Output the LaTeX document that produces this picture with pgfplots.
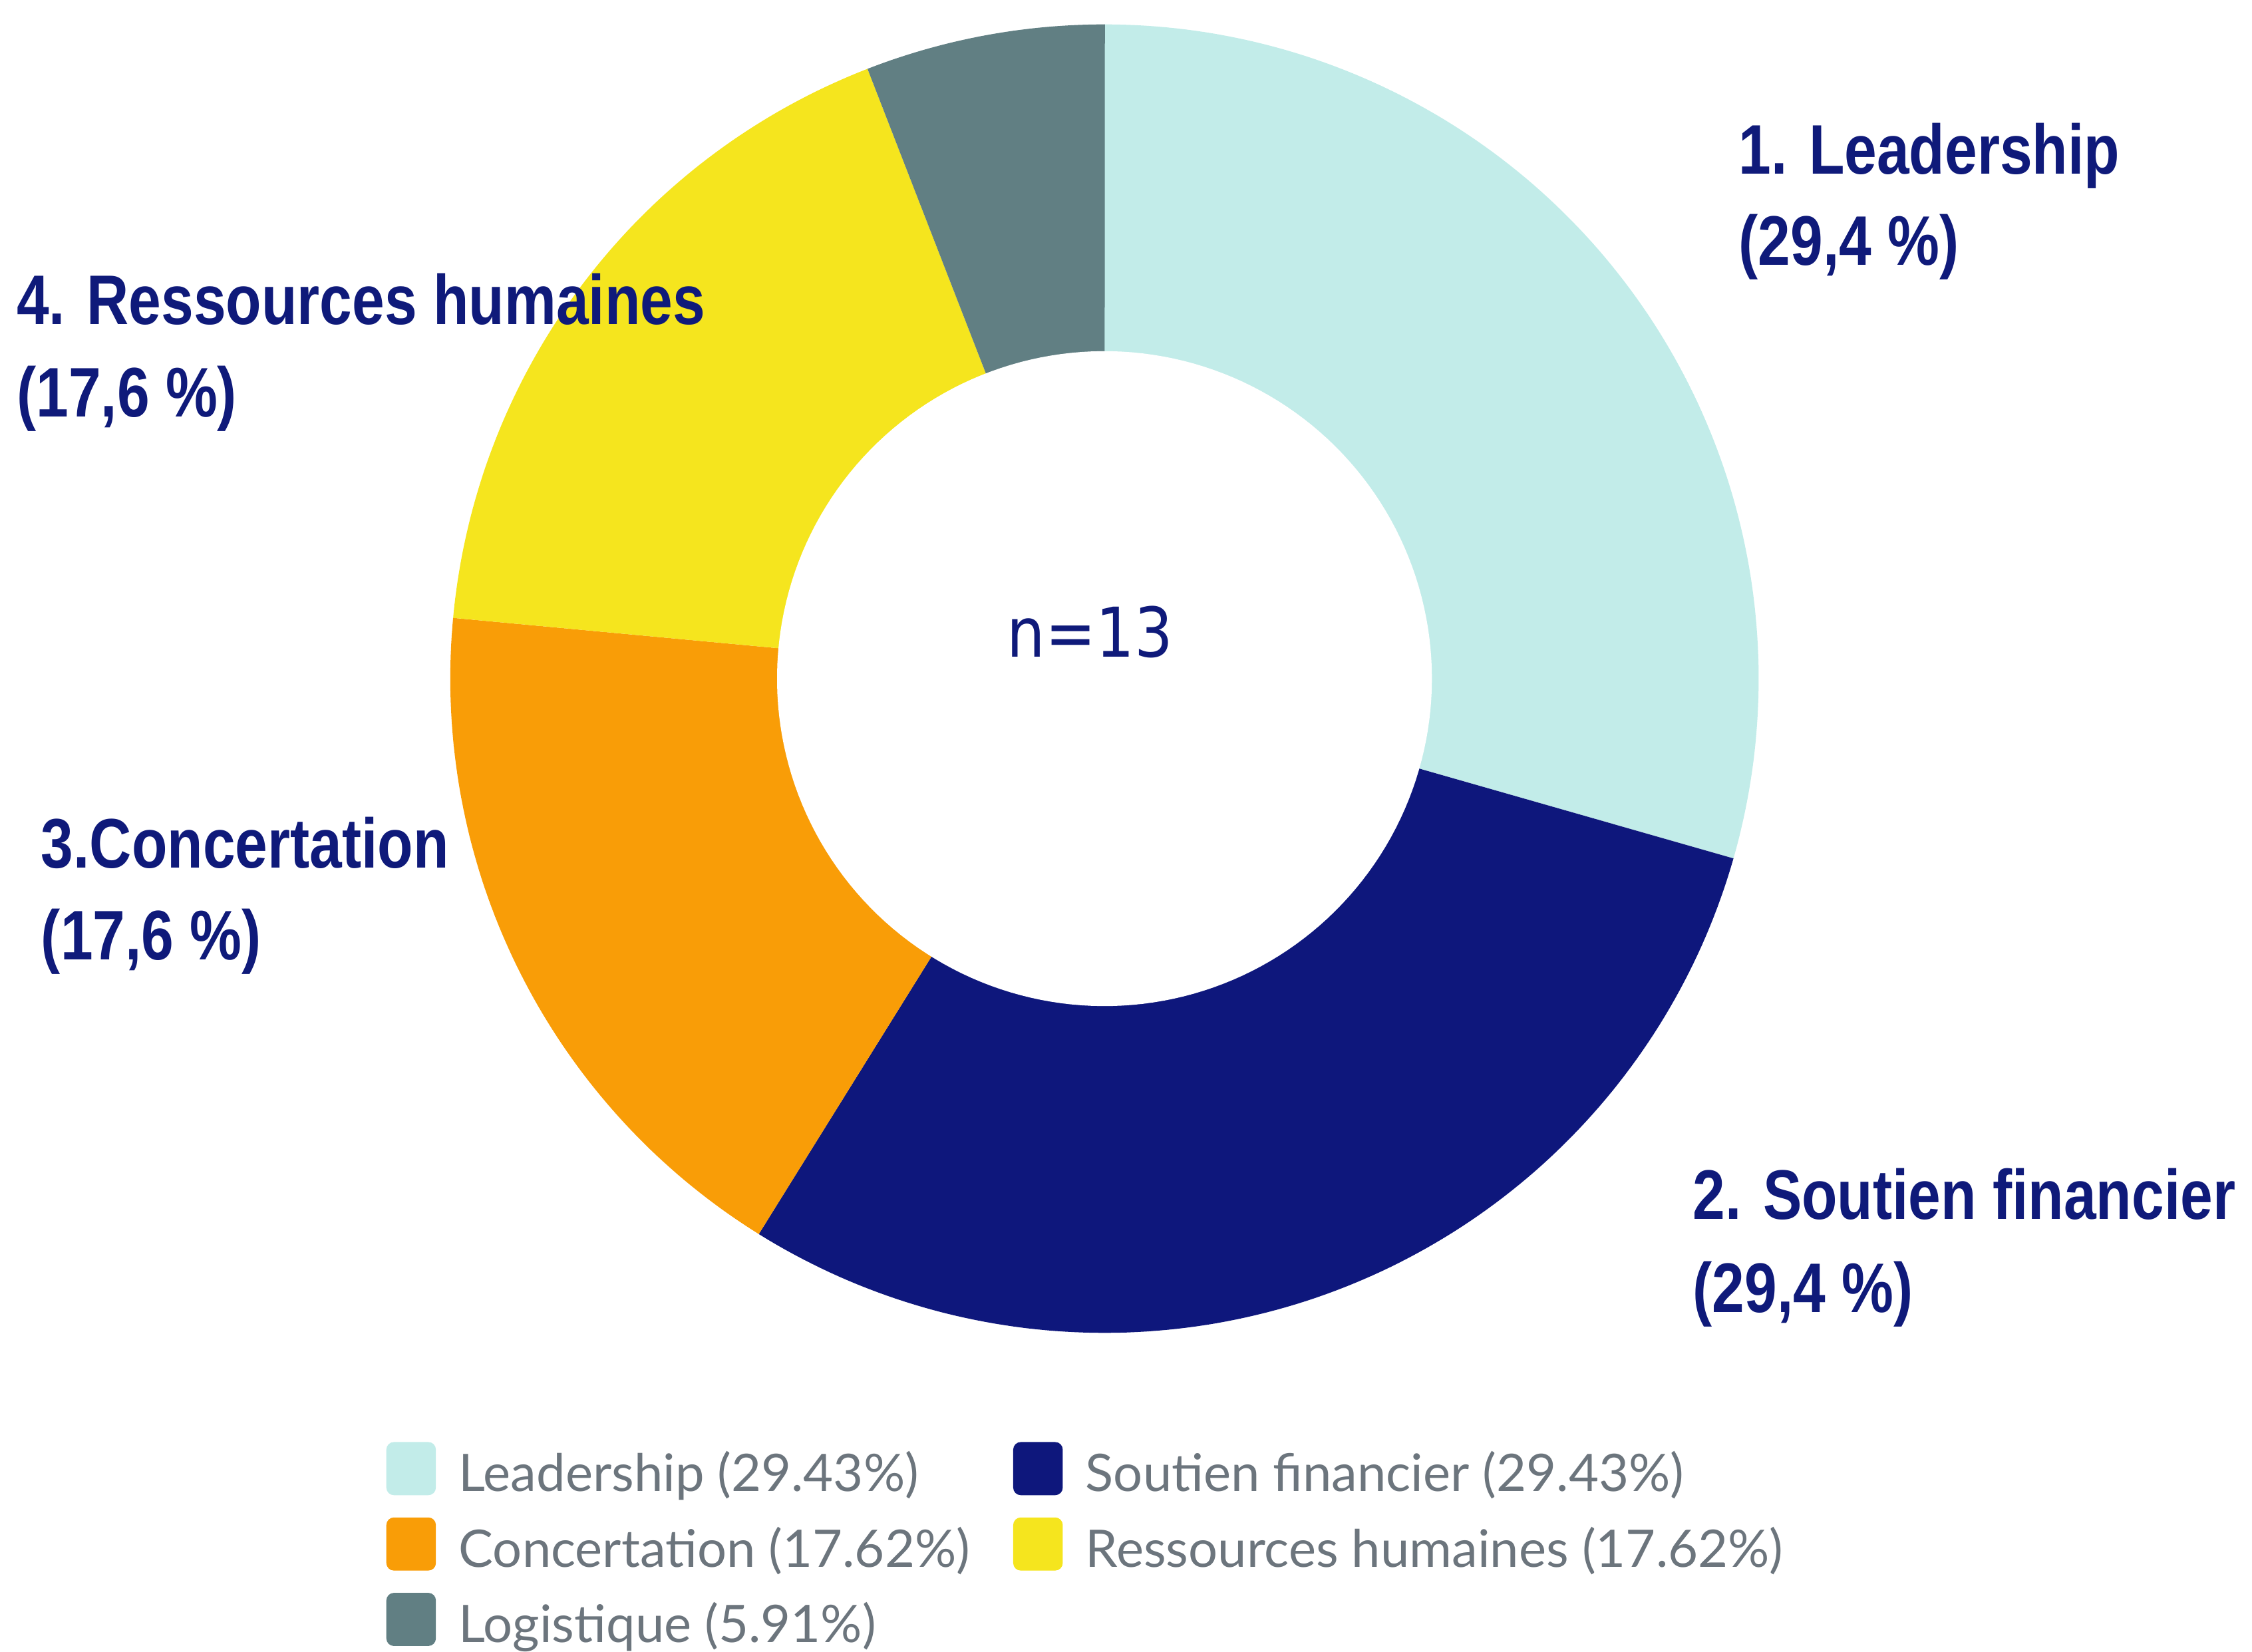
\documentclass[border=0pt]{standalone}
\usepackage{pgfplots}
\pgfplotsset{compat=1.18}
\usepackage{pgfplotstable}
\usepackage{fontspec}
\setmainfont{Lato}
\newfontfamily\labfont{Liberation Sans}[FakeStretch=0.83]
\newfontfamily\nfont{DejaVu Sans}[FakeStretch=0.88]

\definecolor{cLead}{HTML}{C2ECE9}
\definecolor{cSout}{HTML}{0E177C}
\definecolor{cConc}{HTML}{F99D07}
\definecolor{cRess}{HTML}{F5E51E}
\definecolor{cLogi}{HTML}{617F83}
\definecolor{navy}{HTML}{0F1A7A}
\definecolor{legtext}{HTML}{6C757D}

\pgfplotstableread{
label value
Leadership 29.43
Soutien 29.43
Concertation 17.62
Ressources 17.62
Logistique 5.91
}\datatable

\pgfplotstablegetelem{0}{value}\of\datatable \let\vA\pgfplotsretval
\pgfplotstablegetelem{1}{value}\of\datatable \let\vB\pgfplotsretval
\pgfplotstablegetelem{2}{value}\of\datatable \let\vC\pgfplotsretval
\pgfplotstablegetelem{3}{value}\of\datatable \let\vD\pgfplotsretval
\pgfplotstablegetelem{4}{value}\of\datatable \let\vE\pgfplotsretval
\pgfmathsetmacro\aO{90}
\pgfmathsetmacro\aA{\aO-3.6*\vA}
\pgfmathsetmacro\aB{\aA-3.6*\vB}
\pgfmathsetmacro\aC{\aB-3.6*\vC}
\pgfmathsetmacro\aD{\aC-3.6*\vD}
\pgfmathsetmacro\aE{\aD-3.6*\vE}

\def\cx{769}
\def\cy{677.5}
\def\Ro{455.5}
\def\Ri{228}

\begin{document}
\begin{tikzpicture}
\begin{axis}[
  hide axis, scale only axis,
  width=15.68cm, height=11.5cm,
  xmin=0, xmax=1568, ymin=0, ymax=1150,
  clip=false,
  legend columns=2,
  legend cell align=left,
  legend image code/.code={\fill[#1, rounded corners=1.5pt] (0cm,-0.12cm) rectangle (0.345cm,0.25cm);},
  legend style={
    at={(axis cs:269,146)}, anchor=north west,
    draw=none, fill=none, inner sep=0pt, outer sep=0pt,
    font=\fontsize{10.25}{12}\selectfont\color{legtext},
    nodes={inner sep=0pt, text height=0.27cm, text depth=0.08cm},
    column sep=0.16cm,
    row sep=0.10cm,
    /tikz/every even column/.append style={column sep=0.3cm},
  },
]
\addplot[draw=none, fill=cLead, domain=\aA:\aO, samples=120, variable=\t]
  ({\cx+\Ro*cos(\t)},{\cy+\Ro*sin(\t)}) -- (axis cs:\cx,\cy) -- cycle;
\addlegendentry{Leadership (29.43\%)}
\addplot[draw=none, fill=cSout, domain=\aB:\aA, samples=120, variable=\t]
  ({\cx+\Ro*cos(\t)},{\cy+\Ro*sin(\t)}) -- (axis cs:\cx,\cy) -- cycle;
\addlegendentry{Soutien financier (29.43\%)}
\addplot[draw=none, fill=cConc, domain=\aC:\aB, samples=80, variable=\t]
  ({\cx+\Ro*cos(\t)},{\cy+\Ro*sin(\t)}) -- (axis cs:\cx,\cy) -- cycle;
\addlegendentry{Concertation (17.62\%)}
\addplot[draw=none, fill=cRess, domain=\aD:\aC, samples=80, variable=\t]
  ({\cx+\Ro*cos(\t)},{\cy+\Ro*sin(\t)}) -- (axis cs:\cx,\cy) -- cycle;
\addlegendentry{Ressources humaines (17.62\%)}
\addplot[draw=none, fill=cLogi, domain=\aE:\aD, samples=30, variable=\t]
  ({\cx+\Ro*cos(\t)},{\cy+\Ro*sin(\t)}) -- (axis cs:\cx,\cy) -- cycle;
\addlegendentry{Logistique (5.91\%)}
\addplot[draw=none, fill=white, domain=0:360, samples=200, variable=\t, forget plot]
  ({\cx+\Ri*cos(\t)},{\cy+\Ri*sin(\t)}) -- cycle;

\node[anchor=base, text=navy, font=\nfont\fontsize{13.6}{16}\selectfont] at (axis cs:759,692.4) {n=13};

\begin{scope}[every node/.style={anchor=base west, inner sep=0pt, text=navy, font=\labfont\bfseries\fontsize{13.9}{18}\selectfont}]
\node at (axis cs:1210,1029) {1. Leadership};
\node at (axis cs:1210,965.5) {(29,4 \%)};
\node at (axis cs:1178,301) {2. Soutien financier};
\node at (axis cs:1178,236.5) {(29,4 \%)};
\node at (axis cs:28,545.5) {3.Concertation};
\node at (axis cs:28,481.8) {(17,6 \%)};
\node at (axis cs:11,924) {4. Ressources humaines};
\node at (axis cs:11,860) {(17,6 \%)};
\end{scope}
\coordinate (BL) at (axis cs:0,0);
\coordinate (TR) at (axis cs:1568,1150);
\end{axis}
\pgfresetboundingbox
\path (BL) rectangle (TR);
\end{tikzpicture}
\end{document}
